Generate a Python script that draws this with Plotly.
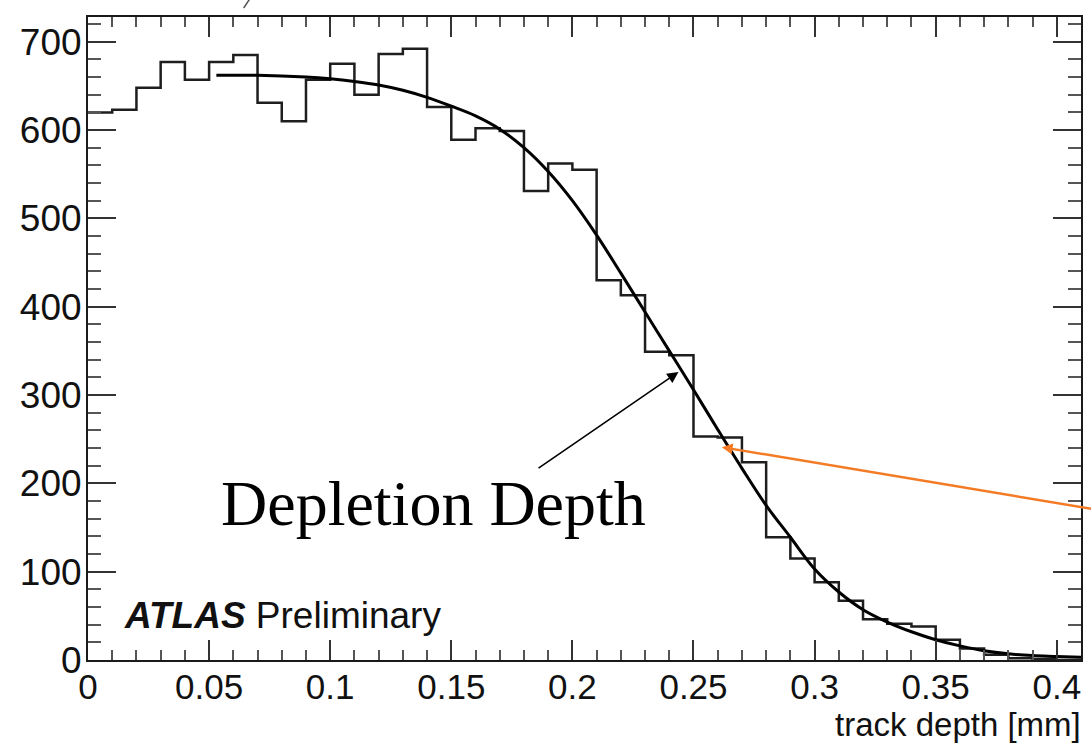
import plotly.graph_objects as go

# Histogram of hit track depth, 0.01 mm bins from 0 to 0.41 mm
bin_width = 0.01
bin_low_edges = [round(i * bin_width, 2) for i in range(41)]
counts = [620, 623, 648, 677, 657, 677, 685, 631, 610, 657,
          675, 640, 686, 692, 626, 589, 602, 599, 531, 562,
          555, 430, 413, 349, 345, 253, 252, 224, 139, 115,
          88, 67, 46, 41, 38, 23, 13, 6, 2, 1, 0]

# Fitted depletion profile (sampled along the fit curve)
fit_x = [0.053, 0.07, 0.09, 0.10, 0.11, 0.12, 0.13, 0.14, 0.15, 0.16,
         0.17, 0.18, 0.19, 0.20, 0.21, 0.22, 0.23, 0.24, 0.25, 0.26,
         0.27, 0.28, 0.29, 0.30, 0.31, 0.32, 0.33, 0.34, 0.35, 0.36,
         0.37, 0.38, 0.39, 0.40, 0.41]
fit_y = [662, 662, 660, 658, 655, 651, 645, 637, 627, 616,
         601, 580, 553, 520, 481, 438, 394, 350, 306, 261,
         217, 175, 139, 103, 77, 57, 43, 32, 23, 16,
         10.5, 7, 5, 4, 3]

x_tick_vals = [0, 0.05, 0.1, 0.15, 0.2, 0.25, 0.3, 0.35, 0.4]
x_tick_text = ["0", "0.05", "0.1", "0.15", "0.2", "0.25", "0.3", "0.35", "0.4"]
y_tick_vals = [0, 100, 200, 300, 400, 500, 600, 700]
y_tick_text = ["0", "100", "200", "300", "400", "500", "600", "700"]

x_range = [0, 0.41]
y_range = [0, 728]

W, H = 1091, 744
M_L, M_R, M_T, M_B = 88, 8, 17, 84
plot_w = W - M_L - M_R
plot_h = H - M_T - M_B


def px_x(px):
    return (px - M_L) / plot_w


def px_y(py):
    return (H - M_B - py) / plot_h


sans = "Liberation Sans, Arial, Helvetica, sans-serif"
serif = "Liberation Serif, Times New Roman, serif"

step_x = bin_low_edges + [round(bin_low_edges[-1] + bin_width, 2)]
step_y = counts + [counts[-1]]

fig = go.Figure()
fig.add_trace(go.Scatter(
    x=step_x, y=step_y, mode="lines", line_shape="hv",
    line=dict(color="#1e1e1e", width=2.5), hoverinfo="skip", showlegend=False,
))
fig.add_trace(go.Scatter(
    x=fit_x, y=fit_y, mode="lines", line_shape="spline",
    line=dict(color="#000000", width=3), hoverinfo="skip", showlegend=False,
))

axis_common = dict(
    showgrid=False, zeroline=False, showline=True, linecolor="#1a1a1a",
    linewidth=2, mirror="ticks", ticks="inside", tickcolor="#333",
    tickwidth=1.5,
)

fig.update_xaxes(
    range=x_range, tickvals=x_tick_vals, ticktext=x_tick_text, ticklen=20,
    ticklabelstandoff=-5, tickfont=dict(family=sans, size=35, color="#111"),
    minor=dict(dtick=0.01, ticklen=10, ticks="inside", tickcolor="#555", tickwidth=1.5),
    **axis_common,
)
fig.update_yaxes(
    range=y_range, tickvals=y_tick_vals, ticktext=y_tick_text, ticklen=28,
    ticklabelstandoff=-3, tickfont=dict(family=sans, size=37, color="#111"),
    minor=dict(dtick=20, ticklen=13, ticks="inside", tickcolor="#555", tickwidth=1.5),
    **axis_common,
)

annotations = [
    dict(text="<b><i>ATLAS</i></b> Preliminary", xref="paper", yref="paper",
         x=px_x(122), y=px_y(615), xanchor="left", yanchor="middle",
         showarrow=False, font=dict(family=sans, size=37, color="#111")),
    dict(text="track depth [mm]", xref="paper", yref="paper",
         x=px_x(1085), y=px_y(724), xanchor="right", yanchor="middle",
         showarrow=False, font=dict(family=sans, size=33, color="#111")),
    dict(text="Depletion Depth", xref="paper", yref="paper",
         x=px_x(219), y=px_y(503), xanchor="left", yanchor="middle",
         showarrow=False, font=dict(family=serif, size=64, color="#000")),
    # black arrow from the label to the fit curve
    dict(text="", x=0.2438, y=326, xref="x", yref="y",
         ax=0.1854, ay=216, axref="x", ayref="y",
         showarrow=True, arrowhead=2, arrowsize=1.4, arrowwidth=1.6,
         arrowcolor="#000"),
    # orange pointer coming in from the right
    dict(text="", x=0.2617, y=241, xref="x", yref="y",
         ax=0.4170, ay=170, axref="x", ayref="y",
         showarrow=True, arrowhead=2, arrowsize=0.9, arrowwidth=2.4,
         arrowcolor="#f47b25"),
]

shapes = [
    dict(type="line", xref="paper", yref="paper",
         x0=px_x(244), y0=px_y(8), x1=px_x(250), y1=px_y(-1),
         line=dict(color="#555", width=1.5)),
]

fig.update_layout(
    width=W, height=H, margin=dict(l=M_L, r=M_R, t=M_T, b=M_B),
    paper_bgcolor="white", plot_bgcolor="white",
    annotations=annotations, shapes=shapes, showlegend=False,
)

fig.write_html("out.html")
